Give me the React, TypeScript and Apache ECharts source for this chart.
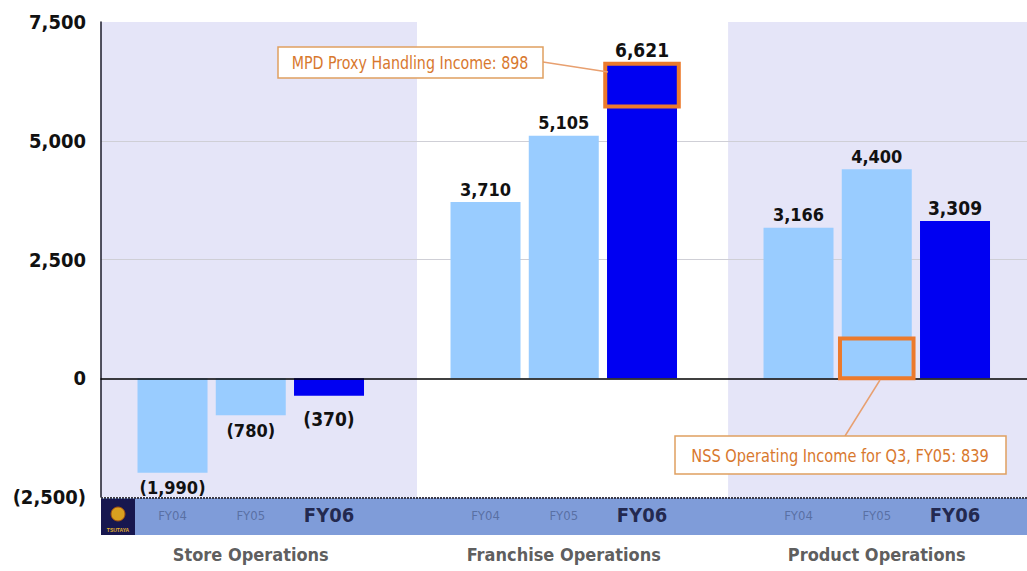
import React, { useEffect, useRef } from "react";
import * as echarts from "echarts";

const years = ["FY04", "FY05", "FY06"];
const segments = ["Store Operations", "Franchise Operations", "Product Operations"];
const storeValues = [-1990, -780, -370];
const franchiseValues = [3710, 5105, 6621];
const productValues = [3166, 4400, 3309];
const yTickValues = [-2500, 0, 2500, 5000, 7500];
const gridValues = [2500, 5000];
const mpdProxyIncome = 898;
const nssQ3Income = 839;
const mpdText = "MPD Proxy Handling Income: 898";
const nssText = "NSS Operating Income for Q3, FY05: 839";

const FONT = "'DejaVu Sans Condensed', 'Liberation Sans Narrow', sans-serif";

const fmt = (v: number) => {
  const s = Math.abs(v).toLocaleString("en-US");
  return v < 0 ? `(${s})` : s;
};

export default function App() {
  const ref = useRef<HTMLDivElement>(null);
  useEffect(() => {
    if (!ref.current) return;
    const chart = echarts.init(ref.current, undefined, { renderer: "svg" });
    const groups = [storeValues, franchiseValues, productValues];
    const slot = (g: number, k: number) => g * 4 + k;
    const barData: any[] = [];
    groups.forEach((vals, g) =>
      vals.forEach((v, k) => {
        const isLast = k === 2;
        barData.push({
          value: [slot(g, k), v],
          itemStyle: { color: isLast ? "#0000f2" : "#99ccff" },
          label: {
            show: true,
            position: v < 0 ? "bottom" : "top",
            distance: v < 0 ? (isLast ? 14 : 6) : 4,
            formatter: fmt(v),
            fontFamily: FONT,
            fontWeight: "bold",
            fontSize: isLast ? 19 : 18,
            color: "#111",
          },
        });
      })
    );
    const yearLabels: any[] = [];
    groups.forEach((_, g) =>
      years.forEach((y, k) => {
        const big = k === 2;
        yearLabels.push({
          value: [slot(g, k), yTickValues[0]],
          label: {
            show: true,
            position: "bottom",
            distance: big ? 8 : 12,
            formatter: y,
            fontFamily: FONT,
            fontWeight: big ? "bold" : "normal",
            fontSize: big ? 20 : 13,
            color: big ? "#0a0a2a" : "#4f6496",
          },
        });
      })
    );
    const segLabels = segments.map((s, g) => ({
      value: [slot(g, 1), yTickValues[0]],
      label: {
        show: true,
        position: "bottom",
        distance: 48,
        formatter: s,
        fontFamily: FONT,
        fontWeight: "bold",
        fontSize: 18,
        color: "#333",
      },
    }));
    const xMin = -0.914;
    const xMax = 10.92;
    const half = 0.47;
    chart.setOption({
      animation: false,
      backgroundColor: "#ffffff",
      grid: { left: 101, right: 0, top: 22, bottom: 74 },
      xAxis: {
        type: "value",
        min: xMin,
        max: xMax,
        z: 4,
        axisLine: { show: true, onZero: true, lineStyle: { color: "#000", width: 1.5 } },
        axisTick: { show: false },
        axisLabel: { show: false },
        splitLine: { show: false },
      },
      yAxis: {
        type: "value",
        min: yTickValues[0],
        max: yTickValues[yTickValues.length - 1],
        interval: 2500,
        z: 4,
        axisLine: { show: true, onZero: false, lineStyle: { color: "#1a1a2a", width: 1.5 } },
        axisTick: { show: false },
        splitLine: { show: false },
        axisLabel: {
          margin: 15,
          formatter: (v: number) => fmt(v),
          fontFamily: FONT,
          fontWeight: "bold",
          fontSize: 20,
          color: "#111",
        },
      },
      series: [
        {
          type: "line",
          data: [],
          z: 0,
          silent: true,
          markArea: {
            silent: true,
            z: 0,
            data: [
              [{ xAxis: xMin, itemStyle: { color: "#e5e5f8" } }, { xAxis: 3.125 }],
              [{ xAxis: 3.125, itemStyle: { color: "#ffffff" } }, { xAxis: 7.1 }],
              [{ xAxis: 7.1, itemStyle: { color: "#e5e5f8" } }, { xAxis: xMax }],
            ],
          },
          markLine: {
            silent: true,
            z: 1,
            symbol: "none",
            label: { show: false },
            lineStyle: { color: "#cfcfd6", type: "solid", width: 1 },
            data: gridValues.map((v) => ({ yAxis: v })),
          },
        },
        {
          type: "bar",
          barWidth: 70,
          z: 2,
          data: barData,
        },
        {
          type: "line",
          data: [],
          z: 5,
          silent: true,
          markArea: {
            silent: true,
            z: 8,
            itemStyle: { color: "rgba(0,0,0,0)", borderColor: "#ec7a2c", borderWidth: 4 },
            data: [
              [
                { coord: [slot(1, 2) - half, franchiseValues[2] - mpdProxyIncome] },
                { coord: [slot(1, 2) + half, franchiseValues[2]] },
              ],
              [
                { coord: [slot(2, 1) - half, 0] },
                { coord: [slot(2, 1) + half, nssQ3Income] },
              ],
            ],
          },
        },
        {
          type: "scatter",
          symbolSize: 0,
          silent: true,
          z: 20,
          data: [...yearLabels, ...segLabels],
        },
      ],
      graphic: [
        {
          type: "rect",
          z: 10,
          shape: { x: 101, y: 498, width: 926, height: 37 },
          style: { fill: "#7f9cd9" },
        },
        {
          type: "line",
          z: 11,
          shape: { x1: 101, y1: 498, x2: 1027, y2: 498 },
          style: { stroke: "#3a3a4a", lineWidth: 2, lineDash: [2, 1] },
        },
        {
          type: "rect",
          z: 11,
          shape: { x: 101, y: 499, width: 34, height: 36 },
          style: { fill: "#17174f" },
        },
        {
          type: "circle",
          z: 12,
          shape: { cx: 118, cy: 514, r: 7 },
          style: { fill: "#d9a020", stroke: "#a05010", lineWidth: 1 },
        },
        {
          type: "text",
          z: 12,
          style: {
            text: "TSUTAYA",
            x: 118,
            y: 530,
            textAlign: "center",
            textVerticalAlign: "middle",
            fill: "#e0b030",
            font: "bold 5px sans-serif",
          },
        },
        {
          type: "line",
          z: 12,
          shape: { x1: 543, y1: 62, x2: 608, y2: 72 },
          style: { stroke: "#e8a070", lineWidth: 1.5 },
        },
        {
          type: "rect",
          z: 12,
          shape: { x: 278, y: 47, width: 265, height: 31 },
          style: { fill: "#ffffff", stroke: "#e0a060", lineWidth: 1.5 },
        },
        {
          type: "text",
          z: 13,
          x: 410,
          y: 63,
          scaleX: 0.88,
          style: {
            text: mpdText,
            x: 0,
            y: 0,
            textAlign: "center",
            textVerticalAlign: "middle",
            fill: "#d8782e",
            font: `18px ${FONT}`,
          },
        },
        {
          type: "line",
          z: 12,
          shape: { x1: 880, y1: 380, x2: 845, y2: 436 },
          style: { stroke: "#e8a070", lineWidth: 1.5 },
        },
        {
          type: "rect",
          z: 12,
          shape: { x: 675, y: 436, width: 331, height: 38 },
          style: { fill: "#ffffff", stroke: "#e0a060", lineWidth: 1.5 },
        },
        {
          type: "text",
          z: 13,
          x: 840,
          y: 456,
          scaleX: 0.9,
          style: {
            text: nssText,
            x: 0,
            y: 0,
            textAlign: "center",
            textVerticalAlign: "middle",
            fill: "#d8782e",
            font: `18px ${FONT}`,
          },
        },
      ],
    });
    return () => chart.dispose();
  }, []);
  return (
    <div
      ref={ref}
      style={{ position: "fixed", left: 0, top: 0, width: 1027, height: 571 }}
    />
  );
}
